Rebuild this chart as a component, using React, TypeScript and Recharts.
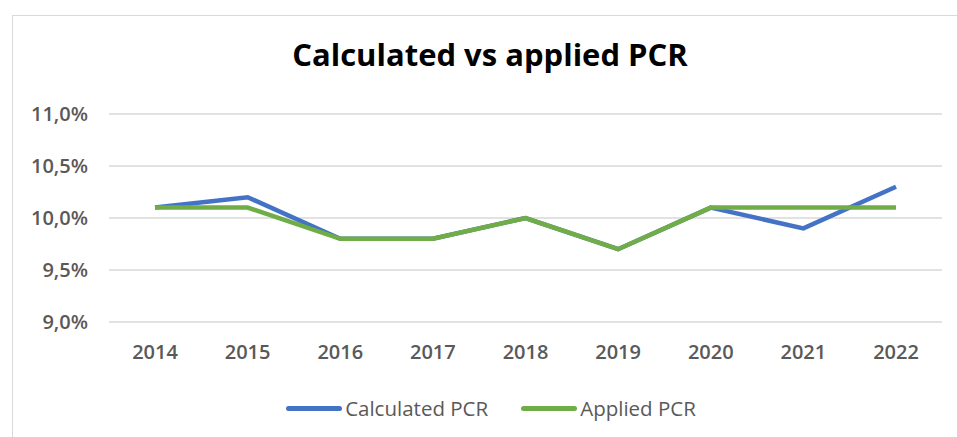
import React from "react";
import { LineChart, Line, XAxis, YAxis, CartesianGrid, Legend } from "recharts";

const years = ["2014", "2015", "2016", "2017", "2018", "2019", "2020", "2021", "2022"];
const calculatedPCR = [10.1, 10.2, 9.8, 9.8, 10.0, 9.7, 10.1, 9.9, 10.3];
const appliedPCR = [10.1, 10.1, 9.8, 9.8, 10.0, 9.7, 10.1, 10.1, 10.1];
const yTicks = [9.0, 9.5, 10.0, 10.5, 11.0];
const seriesNames = ["Calculated PCR", "Applied PCR"];
const colors = ["#4472C4", "#70AD47"];

const data = years.map((y, i) => ({ year: y, calc: calculatedPCR[i], applied: appliedPCR[i] }));

const fmt = (v: number) => v.toFixed(1).replace(".", ",") + "%";

const LegendContent = () => (
  <div style={{ display: "flex", justifyContent: "center", alignItems: "center", height: 22, fontFamily: "'Open Sans', sans-serif", fontSize: 20.5, color: "#595959", paddingLeft: 40 }}>
    {seriesNames.map((n, i) => (
      <div key={n} style={{ display: "flex", alignItems: "center", marginLeft: i === 0 ? 0 : 33 }}>
        <div style={{ width: 56, height: 5, borderRadius: 2.5, background: colors[i], marginRight: 3 }} />
        <span>{n}</span>
      </div>
    ))}
  </div>
);

const tickStyle = { fill: "#595959", fontSize: 20, fontWeight: 600, fontFamily: "'Open Sans', sans-serif" };

export default function App() {
  return (
    <div style={{ position: "absolute", left: 0, top: 0, width: 957, height: 437, background: "#fff", overflow: "hidden" }}>
      <div style={{ position: "absolute", left: 12, top: 15, width: 1000, height: 500, border: "1px solid #d9d9d9", boxSizing: "border-box" }} />
      <div style={{ position: "absolute", left: 0, top: 33, width: 980, textAlign: "center", fontFamily: "'Open Sans', sans-serif", fontWeight: 700, fontSize: 31, color: "#000" }}>
        Calculated vs applied PCR
      </div>
      <div style={{ position: "absolute", left: 0, top: 0 }}>
        <LineChart width={957} height={437} data={data} margin={{ top: 114, right: 15, left: 0, bottom: 0 }}>
          <CartesianGrid vertical={false} stroke="#d9d9d9" strokeWidth={1.5} />
          <XAxis dataKey="year" axisLine={false} tickLine={false} height={75} tickMargin={17}
            padding={{ left: 46, right: 46 }} tick={tickStyle} />
          <YAxis domain={[9, 11]} ticks={yTicks} tickFormatter={fmt} axisLine={false} tickLine={false} width={109} tickMargin={15}
            tick={tickStyle} />
          <Legend verticalAlign="bottom" height={40} content={<LegendContent />} wrapperStyle={{ paddingTop: 0 }} />
          <Line type="linear" dataKey="calc" name={seriesNames[0]} stroke={colors[0]} strokeWidth={4.5} dot={false} isAnimationActive={false} />
          <Line type="linear" dataKey="applied" name={seriesNames[1]} stroke={colors[1]} strokeWidth={4.5} dot={false} isAnimationActive={false} />
        </LineChart>
      </div>
    </div>
  );
}
